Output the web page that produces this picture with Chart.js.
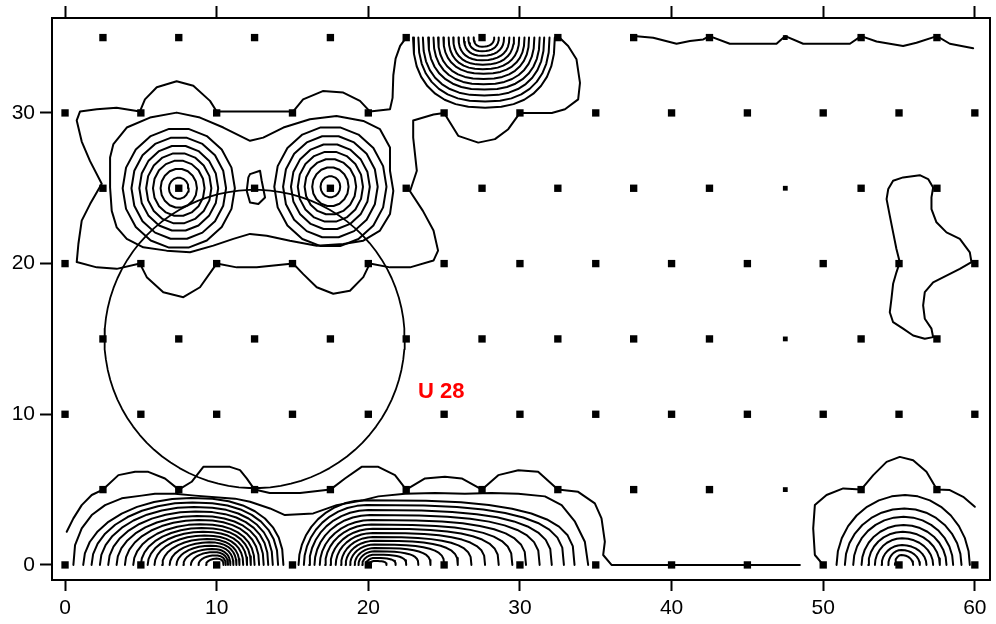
<!DOCTYPE html>
<html>
<head>
<meta charset="utf-8">
<script src="https://cdn.jsdelivr.net/npm/chart.js@4.4.1/dist/chart.umd.min.js"></script>
<style>
  html, body { margin: 0; padding: 0; background: #fff; }
  #wrap { width: 996px; height: 624px; }
</style>
</head>
<body>
<div id="wrap"><canvas id="c" width="996" height="624"></canvas></div>
<script>
// ---- axes ----
const X_RANGE = [-0.86, 61.0];
const Y_RANGE = [-1.0, 36.3];
const xTickValues = [0, 10, 20, 30, 40, 50, 60];
const yTickValues = [0, 10, 20, 30];

// ---- sampling stations (staggered grid) ----
const colsEven = [0, 5, 10, 15, 20, 25, 30, 35, 40, 45, 50, 55, 60];
const colsOdd = [2.5, 7.5, 12.5, 17.5, 22.5, 27.5, 32.5, 37.5, 42.5, 47.5, 52.5, 57.5];
const rowsEven = [0, 10, 20, 30];
const rowsOdd = [5, 15, 25, 35];
const faintColumns = [47.5];

// ---- reference circle and its label ----
const circleCenter = [12.5, 15];
const circleRadius = 9.9;
const siteLabel = 'U 28';
const siteLabelAt = [23.27, 11.5];

// ---- outer irregular isolines ----
const upperOuter = [
  [22.5,35.0],[22.1,34.45],[21.8,33.6],[21.65,32.5],[21.6,31.0],[21.43,30.24],[20.1,30.1],[19.45,30.8],
  [18.35,31.35],[17.0,31.45],[15.7,30.9],[15.05,30.1],[10.0,30.1],[9.56,30.8],[8.46,31.8],[7.36,32.1],
  [6.05,31.7],[5.27,30.9],[4.94,30.1],[3.4,30.35],[2.09,30.24],[0.99,30.1],[0.77,29.5],[1.1,28.1],
  [1.65,26.8],[2.42,25.3],[1.65,23.95],[1.1,22.85],[0.88,21.3],[0.77,20.1],[2.09,19.75],[3.41,19.65],
  [4.94,20.0],[5.39,19.1],[6.48,18.1],[7.8,17.77],[8.9,18.43],[10.0,20.0],[11.32,19.75],[12.64,19.75],
  [15.05,20.0],[15.71,19.3],[16.6,18.43],[17.69,18.0],[18.79,18.2],[19.67,19.1],[20.1,20.0],[21.43,19.75],
  [22.75,19.75],[24.3,20.2],[24.6,20.86],[24.3,22.2],[23.6,23.5],[22.75,24.8],[23.2,26.16],[22.96,28.36],
  [22.96,29.5],[24.3,29.9],[25.0,30.0],[25.93,28.48],[27.25,28.03],[28.35,28.26],[29.23,28.92],[30.0,30.0],
  [31.2,30.0],[32.1,30.0],[32.97,30.24],[33.84,30.9],[33.96,32.0],[33.73,33.56],[33.18,34.44],[32.6,35.0]
];
const twinLobe = [
  [2.97,27.04],[3.19,27.93],[4.07,29.03],[5.6,29.69],[7.36,30.02],[8.9,29.69],[10.44,29.03],[12.2,28.15],
  [13.07,28.36],[14.4,29.03],[16.15,29.58],[17.9,29.8],[19.67,29.47],[20.77,28.92],[21.43,27.7],[21.43,26.16],
  [21.65,24.83],[21.43,23.29],[20.77,22.19],[19.67,21.52],[18.35,21.3],[16.6,21.19],[14.83,21.52],[13.3,21.85],
  [12.2,21.97],[11.1,21.64],[9.78,21.19],[8.24,20.75],[6.7,20.86],[5.16,21.08],[4.07,21.64],[3.41,22.4],
  [3.08,23.5],[2.97,25.05],[2.97,27.04]
];
const saddleIsland = [
  [12.2,25.94],[12.86,26.16],[12.97,25.5],[13.19,24.39],[12.75,23.95],[12.2,24.06],[11.98,24.83],[12.09,25.72],[12.2,25.94]
];
const lowerOuter = [
  [0.11,2.2],[0.55,3.09],[1.1,3.97],[1.76,4.64],[2.5,5.0],[3.52,5.96],[4.62,6.18],[5.49,6.18],[6.59,5.74],
  [7.5,5.0],[8.35,5.52],[9.12,6.51],[10.88,6.51],[11.54,6.29],[11.98,5.74],[12.5,5.0],[13.5,4.77],[15.5,4.77],
  [17.5,5.0],[18.46,5.74],[19.56,6.51],[20.66,6.51],[21.76,5.96],[22.5,5.0],[23.74,5.74],[25.05,5.85],
  [26.16,5.74],[27.5,5.0],[28.57,5.96],[29.89,6.29],[31.2,6.18],[32.5,5.0],[33.84,4.85],[34.94,4.09],
  [35.38,3.09],[35.6,1.54],[35.49,0.66],[36.04,0.0],[48.46,0.0]
];
const lowerSecond = [
  [0.55,0.0],[0.66,1.32],[1.1,2.43],[1.76,3.31],[2.64,3.97],[3.74,4.42],[5.05,4.6],[5.93,4.72],[7.25,4.72],
  [8.57,4.6],[9.89,4.5],[11.21,4.4],[12.2,4.19],[13.52,3.75],[14.5,3.31],[16.37,3.42],[17.91,3.97],[19.67,4.3],
  [20.66,4.55],[22.42,4.72],[24.4,4.78],[26.37,4.72],[28.13,4.78],[29.89,4.72],[31.65,4.55],[32.75,3.97],
  [33.63,2.87],[34.28,1.54],[34.5,0.0]
];
const eastOuter = [
  [50.0,0.0],[49.45,0.66],[49.34,2.43],[49.45,3.97],[50.22,4.64],[51.32,5.08],[52.5,5.0],[53.3,5.96],
  [54.18,6.84],[55.05,7.17],[55.93,6.95],[56.81,6.18],[57.5,5.0],[58.35,4.97],[59.23,4.52],[60.0,3.86]
];
const eastIsland = [
  [54.61,25.5],[55.27,25.72],[56.37,25.87],[56.92,25.61],[57.25,25.05],[57.14,24.39],[57.14,23.62],[57.47,22.74],
  [58.13,22.07],[59.01,21.64],[59.67,20.75],[59.78,20.09],[59.01,19.65],[58.13,19.2],[57.25,18.76],[56.7,18.1],
  [56.59,17.22],[56.7,16.34],[57.14,15.68],[57.25,15.12],[56.7,15.01],[55.93,15.23],[55.27,15.68],[54.61,16.11],
  [54.39,16.77],[54.5,17.66],[54.61,18.66],[54.83,19.42],[55.05,20.09],[54.83,20.97],[54.61,22.07],[54.39,23.18],
  [54.18,24.28],[54.29,24.95],[54.61,25.5]
];
const northEdge = [
  [37.5,35.1],[38.79,34.99],[40.33,34.59],[41.21,34.77],[42.09,34.88],[42.5,35.1],[43.84,34.59],[46.92,34.59],
  [47.5,35.1],[48.68,34.59],[51.76,34.59],[52.5,35.1],[53.52,34.74],[54.39,34.59],[55.27,34.44],[56.15,34.66],
  [57.5,35.1],[58.35,34.59],[59.89,34.29]
];

// ---- closed rings round the two upper maxima ----
const twinPeakX = [7.5, 17.5];
const twinPeakY = [25.0, 25.1];
const twinRingRx = [3.7, 3.12, 2.6, 2.15, 1.7, 1.2, 0.65];
const twinRingRy = [4.0, 3.4, 2.85, 2.35, 1.85, 1.3, 0.7];

// ---- open arches resting on the lower edge (west maximum) ----
const westLeft  = [1.2, 1.75, 2.3, 2.85, 3.4, 3.95, 4.5, 5.0, 5.45, 5.9, 6.4, 6.9, 7.35, 7.8, 8.3, 8.8, 9.3];
const westTop   = [8.3, 8.4, 8.5, 8.6, 8.7, 8.8, 8.9, 9.0, 9.1, 9.2, 9.35, 9.5, 9.6, 9.7, 9.8, 9.9, 10.0];
const westRight = [14.4, 14.05, 13.7, 13.4, 13.1, 12.8, 12.5, 12.25, 12.0, 11.75, 11.5, 11.3, 11.1, 10.9, 10.75, 10.6, 10.45];
const westHeight = [4.45, 4.15, 3.85, 3.55, 3.25, 2.98, 2.7, 2.45, 2.2, 1.95, 1.72, 1.5, 1.28, 1.06, 0.85, 0.63, 0.42];

// ---- lower edge, central maximum ----
const midLeft  = [15.4, 15.75, 16.1, 16.45, 16.8, 17.15, 17.5, 17.85, 18.2, 18.5, 18.8, 19.1, 19.35, 19.6, 19.85, 20.05];
const midTop   = [19.8, 19.9, 20.0, 20.1, 20.2, 20.2, 20.3, 20.3, 20.3, 20.4, 20.4, 20.4, 20.4, 20.4, 20.4, 20.4];
const midRight = [33.6, 32.9, 32.1, 31.3, 30.4, 29.5, 28.6, 27.7, 26.8, 25.9, 25.0, 24.1, 23.3, 22.5, 21.8, 21.2];
const midHeight = [4.3, 3.97, 3.64, 3.31, 2.98, 2.68, 2.4, 2.12, 1.85, 1.6, 1.35, 1.12, 0.9, 0.68, 0.46, 0.26];

// ---- lower edge, east maximum ----
const eastLeft  = [50.88, 51.43, 51.98, 52.53, 52.97, 53.41, 53.85, 54.29, 54.73];
const eastTop   = [55.4, 55.35, 55.3, 55.3, 55.25, 55.2, 55.2, 55.15, 55.15];
const eastRight = [59.67, 59.12, 58.57, 58.13, 57.69, 57.25, 56.81, 56.37, 55.93];
const eastHeight = [4.64, 3.75, 3.2, 2.65, 2.2, 1.77, 1.32, 0.99, 0.66];

// ---- hanging arches from the upper edge ----
const northLeft  = [22.95, 23.3, 23.6, 23.95, 24.3, 24.6, 24.95, 25.3, 25.6, 25.95, 26.3, 26.6, 26.95];
const northTop   = [27.7, 27.7, 27.65, 27.65, 27.6, 27.6, 27.6, 27.55, 27.55, 27.5, 27.5, 27.5, 27.5];
const northRight = [32.3, 31.95, 31.6, 31.3, 30.95, 30.6, 30.3, 29.95, 29.6, 29.3, 28.95, 28.6, 28.3];
const northDepth = [4.65, 4.25, 3.85, 3.45, 3.1, 2.75, 2.4, 2.1, 1.8, 1.5, 1.2, 0.9, 0.6];

// ---------------------------------------------------------------
const toPoints = arr => arr.map(([x, y]) => ({ x, y }));

function ring(cx, cy, rx, ry, n) {
  const out = [];
  for (let i = 0; i <= n; i++) {
    const a = 2 * Math.PI * i / n;
    out.push({ x: cx + rx * Math.cos(a), y: cy + ry * Math.sin(a) });
  }
  return out;
}

// arch from (xl, base) up (or down) to (xt, base +/- h) and back to (xr, base)
function arch(xl, xt, xr, h, base, dir, nL, nR, steps) {
  const out = [];
  for (let i = 0; i <= steps; i++) {
    const a = Math.PI / 2 * i / steps;
    const c = Math.pow(Math.abs(Math.cos(a)), 2 / nL);
    const s = Math.pow(Math.abs(Math.sin(a)), 2 / nL);
    out.push({ x: xt - (xt - xl) * c, y: base + dir * h * s });
  }
  for (let i = steps - 1; i >= 0; i--) {
    const a = Math.PI / 2 * i / steps;
    const c = Math.pow(Math.abs(Math.cos(a)), 2 / nR);
    const s = Math.pow(Math.abs(Math.sin(a)), 2 / nR);
    out.push({ x: xt + (xr - xt) * c, y: base + dir * h * s });
  }
  return out;
}

function isoline(data, width) {
  return {
    type: 'scatter', data, showLine: true, pointRadius: 0, pointHoverRadius: 0,
    borderColor: '#000', borderWidth: width || 2, tension: 0,
    borderJoinStyle: 'round', borderCapStyle: 'round',
    xAxisID: 'x', yAxisID: 'y', order: 2
  };
}

const lines = [];
[upperOuter, twinLobe, saddleIsland, lowerOuter, lowerSecond, eastOuter, eastIsland, northEdge]
  .forEach(p => lines.push(isoline(toPoints(p))));

twinPeakX.forEach((cx, k) => {
  twinRingRx.forEach((rx, i) => lines.push(isoline(ring(cx, twinPeakY[k], rx, twinRingRy[i], 18))));
});
westLeft.forEach((xl, i) => lines.push(isoline(arch(xl, westTop[i], westRight[i], westHeight[i], 0, 1, 2, 2.4, 9))));
midLeft.forEach((xl, i) => lines.push(isoline(arch(xl, midTop[i], midRight[i], midHeight[i], 0, 1, 2, 3, 10))));
eastLeft.forEach((xl, i) => lines.push(isoline(arch(xl, eastTop[i], eastRight[i], eastHeight[i], 0, 1, 2, 2, 8))));
northLeft.forEach((xl, i) => lines.push(isoline(arch(xl, northTop[i], northRight[i], northDepth[i], 35, -1, 2.4, 2.4, 9))));

lines.push(isoline(ring(circleCenter[0], circleCenter[1], circleRadius, circleRadius, 90), 1.8));

// stations
const bigDots = [], smallDots = [];
function addRow(cols, rows) {
  rows.forEach(y => cols.forEach(x => {
    (faintColumns.includes(x) ? smallDots : bigDots).push({ x, y });
  }));
}
addRow(colsEven, rowsEven);
addRow(colsOdd, rowsOdd);

const dotSet = (data, r) => ({
  type: 'scatter', data, pointStyle: 'rect', pointRadius: r, pointHoverRadius: r,
  backgroundColor: '#000', borderColor: '#000', borderWidth: 0, showLine: false,
  xAxisID: 'x', yAxisID: 'y', order: 0
});

const labelPlugin = {
  id: 'siteLabel',
  afterDatasetsDraw(chart) {
    const { ctx, scales } = chart;
    ctx.save();
    ctx.fillStyle = '#ff0000';
    ctx.font = 'bold 22px "Liberation Sans", Arial, sans-serif';
    ctx.textAlign = 'left';
    ctx.textBaseline = 'middle';
    ctx.fillText(siteLabel, scales.x.getPixelForValue(siteLabelAt[0]), scales.y.getPixelForValue(siteLabelAt[1]));
    ctx.restore();
  }
};

const tickFont = { family: '"Liberation Sans", Arial, sans-serif', size: 21 };
const setX = s => { s.ticks = xTickValues.map(v => ({ value: v })); };
const setY = s => { s.ticks = yTickValues.map(v => ({ value: v })); };

new Chart(document.getElementById('c'), {
  type: 'scatter',
  data: { datasets: [dotSet(bigDots, 5.2), dotSet(smallDots, 3.4), ...lines] },
  options: {
    responsive: false, animation: false, devicePixelRatio: 1,
    layout: { padding: { left: 0, right: 6, top: 0, bottom: 0 } },
    plugins: { legend: { display: false }, tooltip: { enabled: false } },
    events: [],
    scales: {
      x: {
        type: 'linear', position: 'bottom', min: X_RANGE[0], max: X_RANGE[1],
        afterBuildTicks: setX, afterFit: s => { s.height = 44; },
        ticks: { color: '#000', font: tickFont, padding: 5, maxRotation: 0, autoSkip: false },
        grid: { drawOnChartArea: false, drawTicks: true, tickLength: 11, tickWidth: 2, tickColor: '#000', color: '#000' },
        border: { display: true, color: '#000', width: 2 }
      },
      xTop: {
        type: 'linear', position: 'top', min: X_RANGE[0], max: X_RANGE[1],
        afterBuildTicks: setX, afterFit: s => { s.height = 18; },
        ticks: { display: false },
        grid: { drawOnChartArea: false, drawTicks: true, tickLength: 12, tickWidth: 2, tickColor: '#000', color: '#000' },
        border: { display: true, color: '#000', width: 2 }
      },
      y: {
        type: 'linear', position: 'left', min: Y_RANGE[0], max: Y_RANGE[1],
        afterBuildTicks: setY, afterFit: s => { s.width = 52; },
        ticks: { color: '#000', font: tickFont, padding: 5, autoSkip: false },
        grid: { drawOnChartArea: false, drawTicks: true, tickLength: 12, tickWidth: 2, tickColor: '#000', color: '#000' },
        border: { display: true, color: '#000', width: 2 }
      },
      yRight: {
        type: 'linear', position: 'right', min: Y_RANGE[0], max: Y_RANGE[1],
        afterFit: s => { s.width = 0; },
        ticks: { display: false },
        grid: { display: false, drawTicks: false },
        border: { display: true, color: '#000', width: 2 }
      }
    }
  },
  plugins: [labelPlugin]
});
</script>
</body>
</html>
